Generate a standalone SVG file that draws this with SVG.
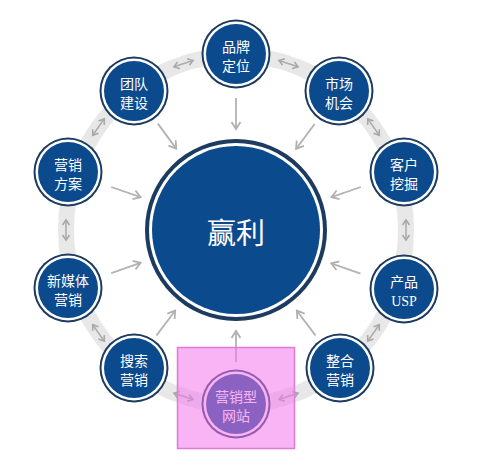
<svg xmlns="http://www.w3.org/2000/svg" width="500" height="472" viewBox="0 0 500 472">
<defs>
<style>
.o{fill:#1d3a5f}
.w{fill:#ffffff}
.c{fill:#0c4a8e}
.t{fill:#ffffff;font-family:"Noto Sans CJK SC","Noto Sans",sans-serif;font-size:14px;text-anchor:middle}
.usp{fill:#ffffff;font-family:"Liberation Serif",serif;font-size:14px;text-anchor:middle}
.ra{stroke:#b3b3b3;stroke-width:1.8;fill:none;marker-end:url(#ah)}
.da{stroke:#acacac;stroke-width:1.6;fill:none;marker-end:url(#ah2);marker-start:url(#ah2)}
</style>
<marker id="ah" markerUnits="userSpaceOnUse" viewBox="-10 -6 12 12" refX="0" refY="0" markerWidth="12" markerHeight="12" orient="auto">
<path d="M-7,-4.5 L0,0 L-7,4.5" stroke="#b0b0b0" stroke-width="1.8" fill="none"/>
</marker>
<marker id="ah2" markerUnits="userSpaceOnUse" viewBox="-10 -6 12 12" refX="0" refY="0" markerWidth="12" markerHeight="12" orient="auto-start-reverse">
<path d="M-5,-3.5 L0,0 L-5,3.5" stroke="#a8a8a8" stroke-width="1.6" fill="none"/>
</marker>
</defs>
<rect width="500" height="472" fill="#ffffff"/>
<g id="connectors">
<ellipse cx="236" cy="230" rx="170" ry="175" fill="none" stroke="#e8e8e8" stroke-width="16"/>
<line class="da" x1="279" y1="60.4" x2="298" y2="66.8"/>
<line class="da" x1="193" y1="60.4" x2="174" y2="66.8"/>
<line class="da" x1="367.7" y1="118.9" x2="379.3" y2="135.3"/>
<line class="da" x1="104.3" y1="118.9" x2="92.7" y2="135.3"/>
<line class="da" x1="406" y1="220" x2="406" y2="240"/>
<line class="da" x1="66" y1="220" x2="66" y2="240"/>
<line class="da" x1="367.7" y1="341.1" x2="379.3" y2="324.7"/>
<line class="da" x1="104.3" y1="341.1" x2="92.7" y2="324.7"/>
<line class="da" x1="279" y1="399.6" x2="298" y2="393.2"/>
<line class="da" x1="193" y1="399.6" x2="174" y2="393.2"/>
<line class="ra" x1="236" y1="98" x2="236" y2="129"/>
<line class="ra" x1="314.6" y1="124" x2="296.1" y2="148.9"/>
<line class="ra" x1="360.8" y1="187" x2="331.5" y2="197.1"/>
<line class="ra" x1="360.5" y1="273.7" x2="331.3" y2="263.4"/>
<line class="ra" x1="315.5" y1="335.4" x2="296.8" y2="310.7"/>
<line class="ra" x1="236" y1="362" x2="236" y2="331"/>
<line class="ra" x1="156.5" y1="335.4" x2="175.2" y2="310.7"/>
<line class="ra" x1="111.2" y1="273.1" x2="140.6" y2="262.9"/>
<line class="ra" x1="111.2" y1="187" x2="140.6" y2="197.1"/>
<line class="ra" x1="157.9" y1="123.6" x2="176.2" y2="148.6"/>
</g>
<g id="center">
<circle class="o" cx="236" cy="230" r="91"/>
<circle class="w" cx="236" cy="230" r="87"/>
<circle class="c" cx="236" cy="230" r="84"/>
<text x="236" y="244" style="fill:#fff;font-family:'Noto Sans CJK SC',sans-serif;font-size:29px;text-anchor:middle">赢利</text>
</g>
<g id="n1">
<circle class="o" cx="236" cy="54" r="34.5"/><circle class="w" cx="236" cy="54" r="32.5"/><circle class="c" cx="236" cy="54" r="30"/>
<text class="t" x="236" y="52">品牌</text><text class="t" x="236" y="71">定位</text>
</g>
<g id="n2">
<circle class="o" cx="339" cy="91" r="34.5"/><circle class="w" cx="339" cy="91" r="32.5"/><circle class="c" cx="339" cy="91" r="30"/>
<text class="t" x="339" y="89">市场</text><text class="t" x="339" y="108">机会</text>
</g>
<g id="n3">
<circle class="o" cx="404" cy="172" r="34.5"/><circle class="w" cx="404" cy="172" r="32.5"/><circle class="c" cx="404" cy="172" r="30"/>
<text class="t" x="404" y="170">客户</text><text class="t" x="404" y="189">挖掘</text>
</g>
<g id="n4">
<circle class="o" cx="404" cy="289" r="34.5"/><circle class="w" cx="404" cy="289" r="32.5"/><circle class="c" cx="404" cy="289" r="30"/>
<text class="t" x="404" y="287">产品</text><text class="usp" x="404" y="306">USP</text>
</g>
<g id="n5">
<circle class="o" cx="340" cy="368" r="34.5"/><circle class="w" cx="340" cy="368" r="32.5"/><circle class="c" cx="340" cy="368" r="30"/>
<text class="t" x="340" y="366">整合</text><text class="t" x="340" y="385">营销</text>
</g>
<g id="n6">
<circle class="o" cx="236" cy="404" r="34.5"/><circle class="w" cx="236" cy="404" r="32.5"/><circle class="c" cx="236" cy="404" r="30"/>
<text class="t" x="236" y="402">营销型</text><text class="t" x="236" y="421">网站</text>
</g>
<g id="n7">
<circle class="o" cx="134" cy="368" r="34.5"/><circle class="w" cx="134" cy="368" r="32.5"/><circle class="c" cx="134" cy="368" r="30"/>
<text class="t" x="134" y="366">搜索</text><text class="t" x="134" y="385">营销</text>
</g>
<g id="n8">
<circle class="o" cx="68" cy="288" r="34.5"/><circle class="w" cx="68" cy="288" r="32.5"/><circle class="c" cx="68" cy="288" r="30"/>
<text class="t" x="68" y="286">新媒体</text><text class="t" x="68" y="305">营销</text>
</g>
<g id="n9">
<circle class="o" cx="68" cy="172" r="34.5"/><circle class="w" cx="68" cy="172" r="32.5"/><circle class="c" cx="68" cy="172" r="30"/>
<text class="t" x="68" y="170">营销</text><text class="t" x="68" y="189">方案</text>
</g>
<g id="n10">
<circle class="o" cx="134" cy="91" r="34.5"/><circle class="w" cx="134" cy="91" r="32.5"/><circle class="c" cx="134" cy="91" r="30"/>
<text class="t" x="134" y="89">团队</text><text class="t" x="134" y="108">建设</text>
</g>
<g id="highlight">
<rect x="177.5" y="347.5" width="117" height="101" fill="#f476ec" fill-opacity="0.55" stroke="#e07ad9" stroke-width="1.5"/>
</g>
</svg>
